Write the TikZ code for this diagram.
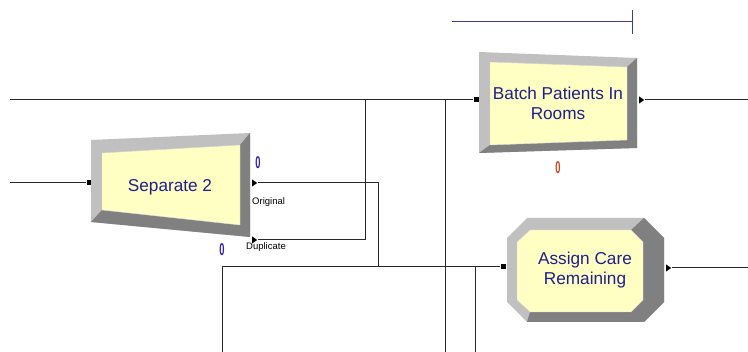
\documentclass[tikz,border=0pt]{standalone}
\usepackage{fontspec}
\setmainfont{Liberation Sans}
\usetikzlibrary{positioning,shapes.geometric}

\definecolor{modtext}{RGB}{30,30,140}
\definecolor{modface}{RGB}{255,255,196}
\definecolor{bevlight}{RGB}{192,192,192}
\definecolor{bevdark}{RGB}{128,128,128}
\definecolor{cntblue}{RGB}{50,30,190}
\definecolor{cntred}{RGB}{200,70,30}
\definecolor{linkgray}{RGB}{40,40,40}
\definecolor{animblue}{RGB}{60,60,160}

\tikzset{
	link/.style={draw=linkgray, line width=1pt},
	entrypt/.style={fill=black, minimum size=5pt, inner sep=0pt},
	exitpt/.style={fill=black, isosceles triangle, isosceles triangle apex angle=70,
		minimum size=5pt, inner sep=0pt},
	modlabel/.style={text=modtext, align=center, inner sep=0pt,
		font=\fontsize{17.2}{20}\selectfont},
	portlabel/.style={anchor=west, inner sep=0pt, font=\fontsize{9.5}{10}\selectfont},
	counter/.style={inner sep=0pt, font=\fontsize{17}{17}\selectfont\bfseries},
	animline/.style={draw=animblue, line width=1pt}
}

\begin{document}
\begin{tikzpicture}[x=1pt, y=-1pt]
	\useasboundingbox (0,0) rectangle (748,352);

	% free ends and bends of the links
	\coordinate (srcTop) at (10,100);
	\coordinate (srcLeft) at (10,183);
	\coordinate (srcLow) at (222,352);
	\coordinate (dupTurn) at (365,100);
	\coordinate (origTurn) at (378,267);
	\coordinate (feedA) at (445,352);
	\coordinate (feedB) at (475,352);
	\coordinate (batchSink) at (748,100);
	\coordinate (assignSink) at (748,268);

	% ports
	\node[entrypt] (sepIn) at (89,183) {};
	\node[exitpt] (sepOrig) at (254,183) {};
	\node[exitpt] (sepDup) at (254,240) {};
	\node[entrypt] (batchIn) at (476,100) {};
	\node[exitpt] (batchOut) at (641,100) {};
	\node[entrypt] (assignIn) at (503,267) {};
	\node[exitpt] (assignOut) at (668,268) {};

	% links
	\draw[link] (srcTop) -- (batchIn);
	\draw[link] (srcLeft) -- (sepIn);
	\draw[link] (sepOrig) -| (origTurn) -- (assignIn);
	\draw[link] (sepDup) -| (dupTurn);
	\draw[link] (srcLow) |- (assignIn);
	\draw[link] (feedA) -- (feedA |- batchIn);
	\draw[link] (feedB) -- (feedB |- assignIn);
	\draw[link] (batchOut) -- (batchSink);
	\draw[link] (assignOut) -- (assignSink);

	% Separate 2
	\fill[bevlight] (91,140) -- (250,133) -- (250,237) -- (91,222) -- cycle;
	\fill[bevdark] (250,133) -- (250,237) -- (91,222) -- (102,210) -- (240,225) -- (240,145) -- cycle;
	\filldraw[fill=modface, draw=bevlight!70!white] (102,153) -- (240,145) -- (240,225) -- (102,210) -- cycle;
	\node[modlabel] (sepText) at (170,187) {Separate 2};

	% Batch Patients In Rooms
	\fill[bevlight] (479,52) -- (637,58) -- (637,148) -- (479,153) -- cycle;
	\fill[bevdark] (637,58) -- (637,148) -- (479,153) -- (490,145) -- (627,140) -- (627,67) -- cycle;
	\filldraw[fill=modface, draw=bevlight!70!white] (490,62) -- (627,67) -- (627,140) -- (490,145) -- cycle;
	\node[modlabel] (batchText) at (558,103) {Batch Patients In\\Rooms};

	% Assign Care Remaining
	\fill[bevlight] (527,218) -- (644,218) -- (664,238) -- (664,302) -- (644,322) -- (527,322)
		-- (507,302) -- (507,238) -- cycle;
	\fill[bevdark] (644,218) -- (664,238) -- (664,302) -- (644,322) -- (527,322)
		-- (530,312) -- (631,312) -- (643,300) -- (643,242) -- (631,230) -- cycle;
	\filldraw[fill=modface, draw=bevlight!70!white] (530,230) -- (631,230) -- (643,242) -- (643,300)
		-- (631,312) -- (530,312) -- (517,300) -- (517,242) -- cycle;
	\node[modlabel] (assignText) at (585,270) {Assign Care\\Remaining};

	% exit labels and counters
	\node[portlabel] (origLabel) at (252,202) {Original};
	\node[portlabel] (dupLabel) at (246,247) {Duplicate};
	\node[counter, text=cntblue] (sepCount) at (258,163) {\scalebox{0.55}[1]{0}};
	\node[counter, text=cntblue] (dupCount) at (222,250) {\scalebox{0.55}[1]{0}};
	\node[counter, text=cntred] (batchCount) at (558,168) {\scalebox{0.55}[1]{0}};

	% animation line
	\coordinate (animA) at (452,22);
	\coordinate (animB) at (632,22);
	\draw[animline] (animA) -- (animB);
	\draw[animline] ([yshift=-12pt]animB) -- ([yshift=12pt]animB);
\end{tikzpicture}
\end{document}
